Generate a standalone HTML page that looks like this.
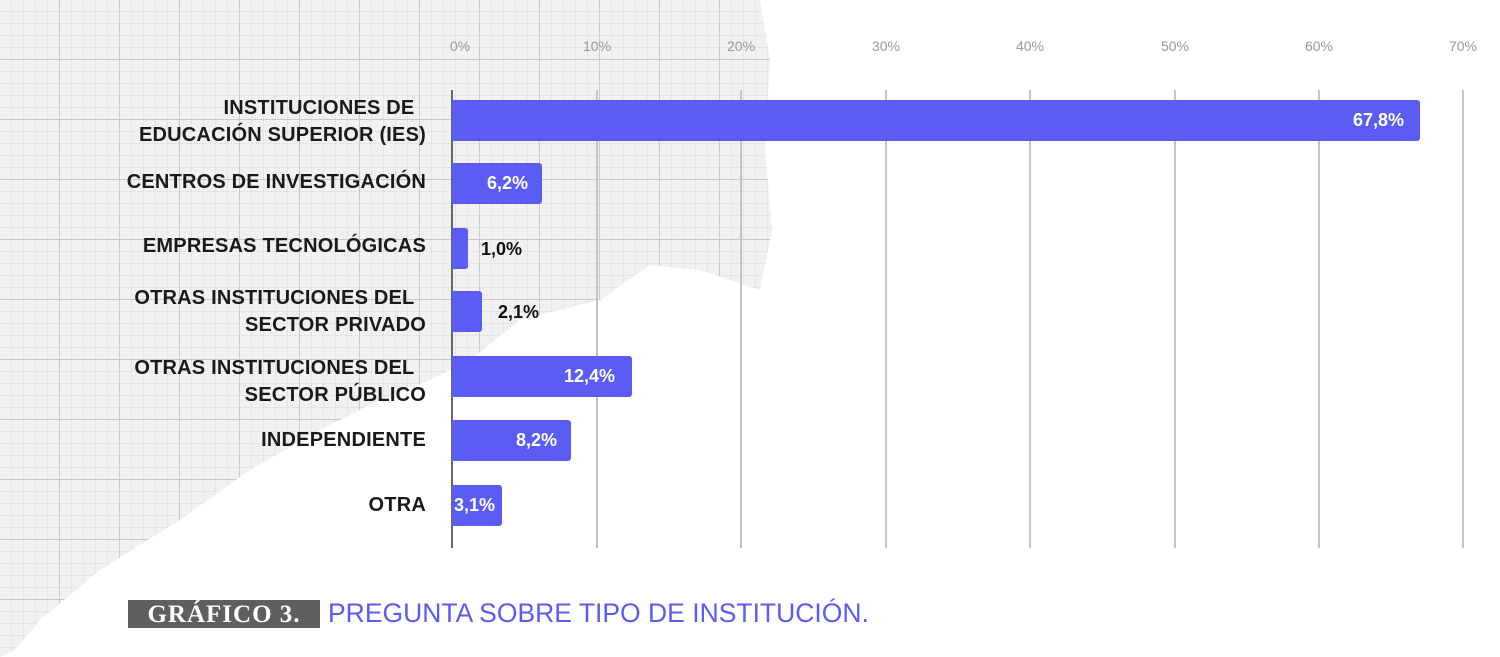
<!DOCTYPE html>
<html><head><meta charset="utf-8"><style>
body{margin:0;width:1500px;height:657px;overflow:hidden;background:#fff;position:relative;font-family:"Liberation Sans",sans-serif}
.paper{position:absolute;left:0;top:0;width:1500px;height:657px}
.t{position:absolute;font-size:14px;color:#999;top:38px;width:60px;text-align:center}
.g{position:absolute;top:90px;height:458px;width:1.5px;background:#c4c4c4}
.lab{position:absolute;right:1074px;text-align:right;font-size:20px;font-weight:bold;color:#1a1a1a;line-height:27px;letter-spacing:0.2px;white-space:nowrap}
.bar{position:absolute;left:452px;background:#5b5bf5;border-radius:0 3px 3px 0;height:41px}
.v{position:absolute;font-size:18px;font-weight:bold;color:#fff;line-height:41px}
.vk{position:absolute;font-size:18px;font-weight:bold;color:#111}
</style></head><body>
<svg class="paper" width="1500" height="657">
<defs>
<pattern id="sm" width="12" height="12" patternUnits="userSpaceOnUse"><path d="M12 0V12M0 12H12" stroke="#d9d9d9" stroke-width="1" fill="none"/></pattern>
<pattern id="bg" width="60" height="60" patternUnits="userSpaceOnUse"><rect width="60" height="60" fill="url(#sm)"/><path d="M60 0V60M0 60H60" stroke="#cacaca" stroke-width="2" fill="none"/></pattern>
<clipPath id="c"><polygon points="0,0 760,0 770,60 765,150 772,230 760,290 700,270 650,265 600,300 520,320 470,360 430,380 380,400 320,430 250,470 180,520 100,570 40,620 15,650 0,657"/></clipPath>
</defs>
<g clip-path="url(#c)"><rect width="800" height="657" fill="#f1f1f1"/><rect width="800" height="657" fill="url(#bg)"/></g>
</svg>
<div class="t" style="left:430px">0%</div>
<div class="t" style="left:567px">10%</div>
<div class="t" style="left:711px">20%</div>
<div class="t" style="left:856px">30%</div>
<div class="t" style="left:1000px">40%</div>
<div class="t" style="left:1145px">50%</div>
<div class="t" style="left:1289px">60%</div>
<div class="t" style="left:1433px">70%</div>
<div class="g" style="left:451px;background:#666"></div>
<div class="g" style="left:596px"></div><div class="g" style="left:740px"></div><div class="g" style="left:885px"></div><div class="g" style="left:1029px"></div><div class="g" style="left:1174px"></div><div class="g" style="left:1318px"></div><div class="g" style="left:1462px"></div>

<div class="lab" style="top:95px">INSTITUCIONES DE&nbsp;&nbsp;<br>EDUCACIÓN SUPERIOR (IES)</div>
<div class="lab" style="top:169px">CENTROS DE INVESTIGACIÓN</div>
<div class="lab" style="top:233px">EMPRESAS TECNOLÓGICAS</div>
<div class="lab" style="top:285px">OTRAS INSTITUCIONES DEL&nbsp;&nbsp;<br>SECTOR PRIVADO</div>
<div class="lab" style="top:355px">OTRAS INSTITUCIONES DEL&nbsp;&nbsp;<br>SECTOR PÚBLICO</div>
<div class="lab" style="top:427px">INDEPENDIENTE</div>
<div class="lab" style="top:492px">OTRA</div>

<div class="bar" style="top:100px;width:968px"></div><div class="v" style="top:100px;left:1353px">67,8%</div>
<div class="bar" style="top:163px;width:90px"></div><div class="v" style="top:163px;left:487px">6,2%</div>
<div class="bar" style="top:228px;width:16px"></div><div class="vk" style="top:239px;left:481px">1,0%</div>
<div class="bar" style="top:291px;width:30px"></div><div class="vk" style="top:302px;left:498px">2,1%</div>
<div class="bar" style="top:356px;width:180px"></div><div class="v" style="top:356px;left:564px">12,4%</div>
<div class="bar" style="top:420px;width:119px"></div><div class="v" style="top:420px;left:516px">8,2%</div>
<div class="bar" style="top:485px;width:50px"></div><div class="v" style="top:485px;left:454px">3,1%</div>

<div style="position:absolute;left:128px;top:600px;width:192px;height:28px;background:#5f5f5f;color:#fff;font-family:'Liberation Serif',serif;font-weight:bold;font-size:25px;line-height:29px;text-align:center;letter-spacing:1px">GRÁFICO 3.</div>
<div style="position:absolute;left:328px;top:597px;color:#5b5bf5;font-size:26.5px;line-height:32px;letter-spacing:0px">PREGUNTA SOBRE TIPO DE INSTITUCIÓN.</div>
</body></html>
